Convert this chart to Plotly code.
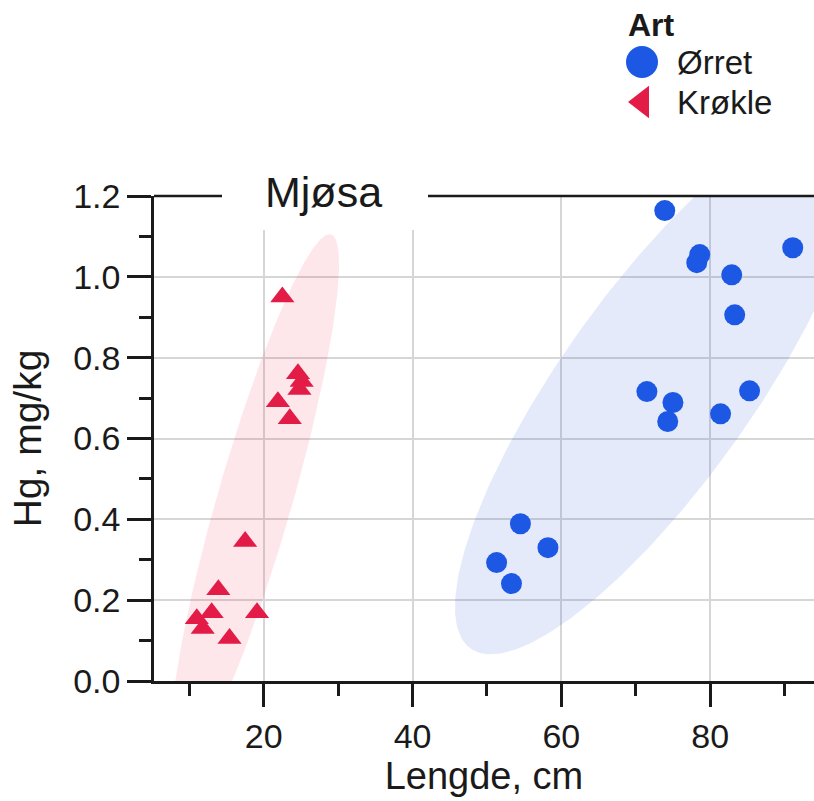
import numpy as np
import plotly.graph_objects as go

# ---------------- data ----------------
species = ["Ørret", "Krøkle"]
orret_len = [73.9, 78.6, 78.2, 91.1, 82.9, 83.3, 71.5, 75.0, 74.3, 81.4, 85.3, 54.5, 58.2, 51.3, 53.3]
orret_hg = [1.164, 1.055, 1.035, 1.072, 1.005, 0.906, 0.716, 0.689, 0.642, 0.661, 0.718, 0.389, 0.330, 0.293, 0.241]
krokle_len = [22.5, 24.6, 25.1, 24.8, 21.9, 23.5, 17.5, 13.9, 13.0, 11.0, 11.8, 19.1, 15.4]
krokle_hg = [0.950, 0.760, 0.741, 0.721, 0.691, 0.649, 0.345, 0.226, 0.169, 0.154, 0.130, 0.169, 0.105]
x_ticks = [20, 40, 60, 80]
x_minor = [10, 30, 50, 70, 90]
y_ticks = [0.0, 0.2, 0.4, 0.6, 0.8, 1.0, 1.2]
y_minor = [0.1, 0.3, 0.5, 0.7, 0.9, 1.1]
panel_title = "Mjøsa"
legend_title = "Art"
ELLIPSE_LEVEL = 0.90

# ---------------- styles ----------------
BLUE = "#1c58e4"
RED = "#e31b47"
BLUE_FILL = "rgba(40,80,220,0.12)"
RED_FILL = "rgba(235,40,70,0.11)"
INK = "#1a1a1a"
GRID = "#d6d6d6"
FONT = "Liberation Sans, Arial, Helvetica, sans-serif"

W, H = 814, 801
ML, MR, MT, MB = 154, 0, 0, 120
PLOT_H = H - MT - MB
PLOT_W = W - ML - MR
Y_TOP_PX = 196
X_MIN, PX_PER_CM = 5.25, 7.44
X_MAX = X_MIN + PLOT_W / PX_PER_CM


def conf_ellipse(x, y, level=0.95, n=300):
    x = np.asarray(x, float)
    y = np.asarray(y, float)
    cov = np.cov(x, y)
    r = np.sqrt(-2.0 * np.log(1.0 - level))      # chi-square, 2 dof
    L = np.linalg.cholesky(cov)
    t = np.linspace(0, 2 * np.pi, n)
    pts = L @ np.vstack([np.cos(t), np.sin(t)]) * r
    return x.mean() + pts[0], y.mean() + pts[1]


fig = go.Figure()

ex, ey = conf_ellipse(krokle_len, krokle_hg, ELLIPSE_LEVEL)
fig.add_trace(go.Scatter(x=ex, y=ey, mode="lines", fill="toself", fillcolor=RED_FILL,
                         line=dict(width=0), hoverinfo="skip", showlegend=False))
ex, ey = conf_ellipse(orret_len, orret_hg, ELLIPSE_LEVEL)
fig.add_trace(go.Scatter(x=ex, y=ey, mode="lines", fill="toself", fillcolor=BLUE_FILL,
                         line=dict(width=0), hoverinfo="skip", showlegend=False))

fig.add_trace(go.Scatter(x=krokle_len, y=krokle_hg, mode="markers", name=species[1],
                         marker=dict(symbol="triangle-up", size=21, color=RED, line=dict(width=0)),
                         showlegend=False))
fig.add_trace(go.Scatter(x=orret_len, y=orret_hg, mode="markers", name=species[0],
                         marker=dict(symbol="circle", size=21, color=BLUE, line=dict(width=0)),
                         showlegend=False))

# ---------- custom legend drawn on a pixel-mapped overlay subplot ----------
LEG_MARK_X = 642
LEG_ROWS_Y = [62, 102]
LEG_TEXT_X = 675
leg_symbols = ["circle", "triangle-left"]
leg_sizes = [32, 28]
leg_colors = [BLUE, RED]
for name, sym, sz, col, yy in zip(species, leg_symbols, leg_sizes, leg_colors, LEG_ROWS_Y):
    fig.add_trace(go.Scatter(x=[LEG_MARK_X], y=[yy], xaxis="x2", yaxis="y2", mode="markers",
                             marker=dict(symbol=sym, size=sz, color=col, line=dict(width=0)),
                             hoverinfo="skip", showlegend=False))
    fig.add_annotation(x=LEG_TEXT_X, y=yy, xref="x2", yref="y2", text=name, showarrow=False,
                       xanchor="left", yanchor="middle", font=dict(size=33, color=INK, family=FONT))
fig.add_annotation(x=626, y=25, xref="x2", yref="y2", text="<b>%s</b>" % legend_title,
                   showarrow=False, xanchor="left", yanchor="middle",
                   font=dict(size=32, color=INK, family=FONT))

# ---------- panel title breaking the top border ----------
fig.add_shape(type="line", xref="x2", yref="y2", x0=ML, x1=222, y0=Y_TOP_PX, y1=Y_TOP_PX,
              line=dict(color=INK, width=2.5), layer="above")
fig.add_shape(type="line", xref="x2", yref="y2", x0=428, x1=W, y0=Y_TOP_PX, y1=Y_TOP_PX,
              line=dict(color=INK, width=2.5), layer="above")
fig.add_shape(type="rect", xref="x2", yref="y2", x0=222, x1=428, y0=150, y1=230,
              fillcolor="white", line=dict(width=0), layer="above")
fig.add_annotation(x=323, y=192, xref="x2", yref="y2", text=panel_title, showarrow=False,
                   xanchor="center", yanchor="middle", font=dict(size=43, color=INK, family=FONT))

axis_common = dict(ticks="outside", tickwidth=2.5, tickcolor=INK, showline=True, linewidth=2.5,
                   linecolor=INK, showgrid=True, gridcolor=GRID, gridwidth=2, zeroline=False,
                   automargin=False, tickfont=dict(size=34, color=INK, family=FONT))

fig.update_layout(
    width=W, height=H,
    margin=dict(l=ML, r=MR, t=MT, b=MB, pad=0, autoexpand=False),
    paper_bgcolor="white", plot_bgcolor="rgba(0,0,0,0)",
    font=dict(family=FONT, color=INK),
    showlegend=False,
    xaxis=dict(domain=[0, 1], range=[X_MIN, X_MAX], tickvals=x_ticks, ticklen=23,
               minor=dict(tickvals=x_minor, ticks="outside", ticklen=12, tickwidth=2.5,
                          tickcolor=INK, showgrid=False),
               title=dict(text="Lengde, cm", font=dict(size=38, color=INK, family=FONT), standoff=8),
               anchor="y", **axis_common),
    yaxis=dict(domain=[0, (PLOT_H - Y_TOP_PX) / PLOT_H], range=[0, 1.2], tickvals=y_ticks,
               tickformat=".1f", ticklen=24,
               minor=dict(tickvals=y_minor, ticks="outside", ticklen=12, tickwidth=2.5,
                          tickcolor=INK, showgrid=False),
               title=dict(text="Hg, mg/kg", font=dict(size=39, color=INK, family=FONT), standoff=20),
               anchor="x", **axis_common),
    xaxis2=dict(domain=[0, 1], range=[ML, W], visible=False, anchor="y2", fixedrange=True,
                automargin=False),
    yaxis2=dict(domain=[0, 1], range=[PLOT_H, 0], visible=False, anchor="x2", fixedrange=True,
                automargin=False),
)

fig.write_html("out.html")
